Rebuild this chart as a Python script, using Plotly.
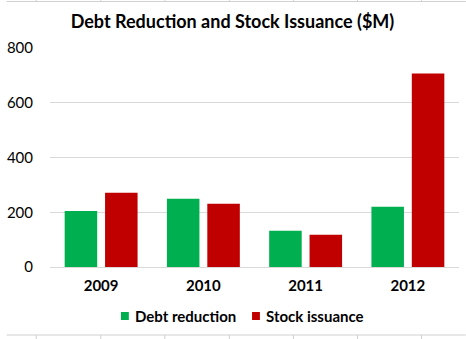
import plotly.graph_objects as go

years = ["2009", "2010", "2011", "2012"]
debt_reduction = [205, 249, 132, 220]
stock_issuance = [271, 231, 118, 707]
y_ticks = [0, 200, 400, 600, 800]
series_names = ["Debt reduction", "Stock issuance"]
series_colors = ["#00B050", "#C00000"]

FONT = "Lato"

fig = go.Figure()
for name, vals, col in zip(series_names, [debt_reduction, stock_issuance], series_colors):
    fig.add_trace(go.Bar(name=name, x=years, y=vals, showlegend=False,
                         marker=dict(color=col, line=dict(width=0))))

W, H = 466, 339
ml, mr, mt, mb = 44, 7, 48, 72
pw, ph = W - ml - mr, H - mt - mb


def px_x(x):
    return (x - ml) / pw


def px_y(y):
    return 1 - (y - mt) / ph


fig.update_layout(
    width=W, height=H,
    margin=dict(l=ml, r=mr, t=mt, b=mb),
    paper_bgcolor="white", plot_bgcolor="white",
    barmode="group", bargap=0.21, bargroupgap=0.195,
    title=dict(text="<b>Debt Reduction and Stock Issuance ($M)</b>",
               x=232.5 / W, xanchor="center", y=1 - 22 / H, yanchor="middle",
               font=dict(family=FONT, size=18, color="black")),
    font=dict(family=FONT, size=15, color="black"),
    showlegend=False,
    xaxis=dict(showgrid=False, showline=False, ticks="",
               tickfont=dict(family=FONT, size=15, color="black"),
               tickprefix="<b>", ticksuffix="</b>",
               ticklabelstandoff=8),
    yaxis=dict(range=[0, 800], tickvals=y_ticks, showgrid=True,
               gridcolor="#D9D9D9", gridwidth=1, zeroline=True,
               zerolinecolor="#D9D9D9", zerolinewidth=1, showline=False,
               ticks="", ticklabelstandoff=16,
               tickprefix="<b>", ticksuffix="</b>",
               tickfont=dict(family=FONT, size=15, color="black")),
)

# Legend (drawn as swatches + text to match the compact Excel style)
legend_sq_x = [116, 249]
legend_y = 316
for sx, name, col in zip(legend_sq_x, series_names, series_colors):
    fig.add_shape(type="rect", xref="paper", yref="paper",
                  x0=px_x(sx), x1=px_x(sx + 8), y0=px_y(legend_y + 4), y1=px_y(legend_y - 4),
                  fillcolor=col, line=dict(width=0))
    fig.add_annotation(xref="paper", yref="paper", x=px_x(sx + 12), y=px_y(legend_y),
                       xanchor="left", yanchor="middle", showarrow=False,
                       text=f"<b>{name}</b>",
                       font=dict(family=FONT, size=15, color="black"))

# spreadsheet cell-grid remnants at the top and bottom edges
grid_col = "#D0D0D0"
fig.add_shape(type="line", xref="paper", yref="paper",
              x0=px_x(0), x1=px_x(W), y0=px_y(1.5), y1=px_y(1.5),
              line=dict(color=grid_col, width=1))
fig.add_shape(type="line", xref="paper", yref="paper",
              x0=px_x(0), x1=px_x(W), y0=px_y(335), y1=px_y(335),
              line=dict(color=grid_col, width=1))
for cx in [30, 95.5, 160.5, 226, 291, 356, 421]:
    fig.add_shape(type="line", xref="paper", yref="paper",
                  x0=px_x(cx), x1=px_x(cx), y0=px_y(335), y1=px_y(H),
                  line=dict(color=grid_col, width=1))
    fig.add_shape(type="line", xref="paper", yref="paper",
                  x0=px_x(cx), x1=px_x(cx), y0=px_y(0), y1=px_y(1.5),
                  line=dict(color=grid_col, width=1))

fig.write_html("out.html")
